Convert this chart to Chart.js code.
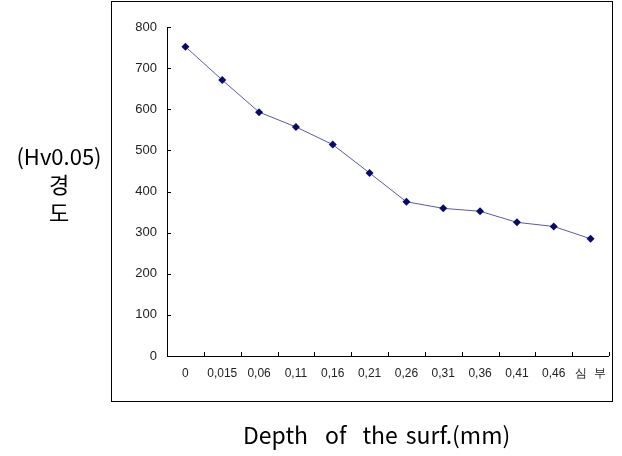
<!DOCTYPE html>
<html><head><meta charset="utf-8">
<script src="https://cdn.jsdelivr.net/npm/chart.js@4"></script>
<style>
html,body{margin:0;padding:0;background:#fff;}
#wrap{position:relative;width:622px;height:456px;overflow:hidden;}
#box{position:absolute;left:111px;top:1px;width:500px;height:399px;border:1px solid #000;}
canvas{position:absolute;left:0;top:0;}
.t{position:absolute;font-family:"Noto Sans CJK KR","Noto Sans",sans-serif;font-size:22px;color:#000;white-space:pre;line-height:28px;text-align:center;}
</style></head><body>
<div id="wrap">
<div id="box"></div>
<canvas id="c" width="622" height="456"></canvas>
<div class="t" id="yt" style="left:8px;top:141px;width:102px;">(Hv0.05)<br>경<br>도</div>
<div class="t" id="xt" style="left:243px;top:420px;text-align:left;font-size:23px;">Depth<span style="margin-left:17px">of</span><span style="margin-left:16px">the</span><span style="margin-left:8px">surf.(mm)</span></div>
</div>
<script>
const categories = ['0','0,015','0,06','0,11','0,16','0,21','0,26','0,31','0,36','0,41','0,46','심  부'];
const hardness = [752, 671, 593, 557, 514, 445, 375, 359, 352, 325, 315, 285];
const yTicks = [0, 100, 200, 300, 400, 500, 600, 700, 800];

const innerTicks = {
  id: 'innerTicks',
  afterDraw(chart) {
    const ctx = chart.ctx, x = chart.scales.x, y = chart.scales.y;
    ctx.save();
    ctx.strokeStyle = '#000';
    ctx.lineWidth = 1;
    ctx.beginPath();
    ctx.moveTo(x.left + 0.5, y.top); ctx.lineTo(x.left + 0.5, y.bottom + 0.5);
    ctx.lineTo(x.right, y.bottom + 0.5);
    yTicks.forEach(v => {
      const py = Math.round(y.getPixelForValue(v)) + 0.5;
      ctx.moveTo(x.left, py); ctx.lineTo(x.left + 4, py);
    });
    for (let i = 0; i <= categories.length; i++) {
      const px = Math.round(x.getPixelForValue(i - 0.5)) + 0.5;
      ctx.moveTo(px, y.bottom); ctx.lineTo(px, y.bottom - 4);
    }
    ctx.stroke();
    ctx.restore();
  }
};

new Chart(document.getElementById('c'), {
  type: 'line',
  data: {
    labels: categories,
    datasets: [{
      data: hardness,
      borderColor: '#5a5aa0',
      borderWidth: 1,
      pointStyle: 'rectRot',
      pointRadius: 4,
      pointBackgroundColor: '#0a0a6e',
      pointBorderColor: '#0a0a6e',
      pointBorderWidth: 0,
      tension: 0
    }]
  },
  options: {
    responsive: false,
    devicePixelRatio: 1,
    animation: false,
    layout: { padding: { left: 127, top: 27, right: 13, bottom: 70 } },
    plugins: { legend: { display: false }, tooltip: { enabled: false } },
    scales: {
      x: {
        offset: true,
        grid: { display: false, drawTicks: false },
        border: { display: false },
        ticks: { color: '#222', font: { family: 'Liberation Sans', size: 12 }, padding: 10, maxRotation: 0, autoSkip: false },
        afterFit(s) { s.height = 30; }
      },
      y: {
        min: 0, max: 800,
        afterBuildTicks(s) { s.ticks = yTicks.map(v => ({ value: v })); },
        grid: { display: false, drawTicks: false },
        border: { display: false },
        ticks: { color: '#222', font: { family: 'Liberation Sans', size: 13 }, padding: 10 },
        afterFit(s) { s.width = 40; }
      }
    }
  },
  plugins: [innerTicks]
});
</script>
</body></html>
